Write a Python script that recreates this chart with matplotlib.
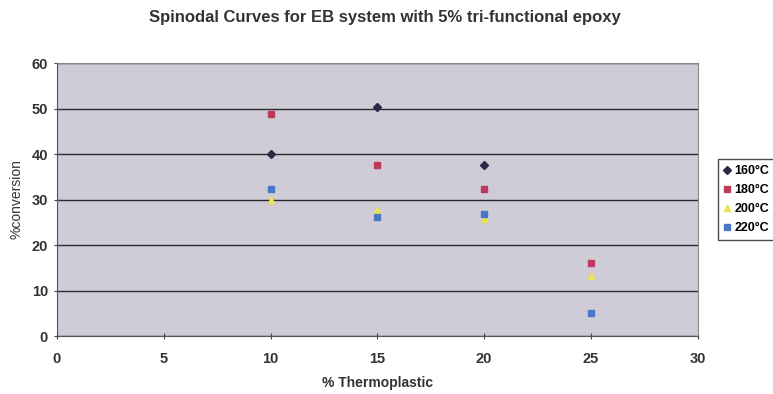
import matplotlib
import matplotlib.pyplot as plt

matplotlib.use('Agg')

# % thermoplastic on the x axis
x_160 = [10, 15, 20]
x_other = [10, 15, 20, 25]
# % conversion at spinodal, per cure temperature
conv_160 = [40.0, 50.4, 37.6]
conv_180 = [48.8, 37.6, 32.4, 16.0]
conv_200 = [30.0, 27.7, 25.7, 13.1]
conv_220 = [32.4, 26.2, 26.8, 5.1]

labels = ['160°C', '180°C', '200°C', '220°C']

fig = plt.figure(figsize=(7.73, 3.94), dpi=100)
fig.patch.set_facecolor('white')
ax = fig.add_axes([0.0737, 0.147, 0.829, 0.693])
ax.set_facecolor('#cfcbd7')

ax.plot(x_160, conv_160, 'D', color='#2a2a48', ms=4, label=labels[0], zorder=3)
ax.plot(x_other, conv_180, 's', color='#c03a5c', ms=5, label=labels[1], zorder=3)
ax.plot(x_other, conv_200, '^', color='#ece44a', ms=5, label=labels[2], zorder=3)
ax.plot(x_other, conv_220, 's', color='#4a78c8', ms=4.5, label=labels[3], zorder=3)

ax.set_xlim(0, 30)
ax.set_ylim(0, 60)
ax.set_xticks(range(0, 31, 5))
ax.set_yticks(range(0, 61, 10))
ax.yaxis.grid(True, color='#2a2a2a', linewidth=1.0)
ax.set_axisbelow(True)
for s in ['top', 'right']:
    ax.spines[s].set_color('#8a8a8a')
for s in ['left', 'bottom']:
    ax.spines[s].set_color('#555555')
ax.tick_params(direction='inout', length=5, color='#444444', labelsize=10.5,
               labelcolor='#333333')
ax.tick_params(axis='x', pad=9)
ax.tick_params(axis='y', pad=4)
for lbl in ax.get_xticklabels() + ax.get_yticklabels():
    lbl.set_fontweight('bold')
    lbl.set_family('Liberation Sans')

ax.set_xlabel('% Thermoplastic', fontsize=10, fontweight='bold',
              family='Liberation Sans', color='#333333', labelpad=7)
ax.set_ylabel('%conversion', fontsize=10, family='Liberation Sans',
              color='#333333', labelpad=6)
fig.suptitle('Spinodal Curves for EB system with 5% tri-functional epoxy',
             x=0.498, y=0.975, fontsize=12, fontweight='bold',
             family='Liberation Sans', color='#333333')

leg = ax.legend(loc='upper left', bbox_to_anchor=(1.031, 0.648), frameon=True,
                fancybox=False, handlelength=0.5, handletextpad=0.35,
                borderpad=0.5, labelspacing=0.55, borderaxespad=0,
                prop={'family': 'Liberation Sans', 'weight': 'bold', 'size': 9})
leg.get_frame().set_edgecolor('#222222')
leg.get_frame().set_linewidth(1.0)

fig.savefig('out.png', dpi=100)
